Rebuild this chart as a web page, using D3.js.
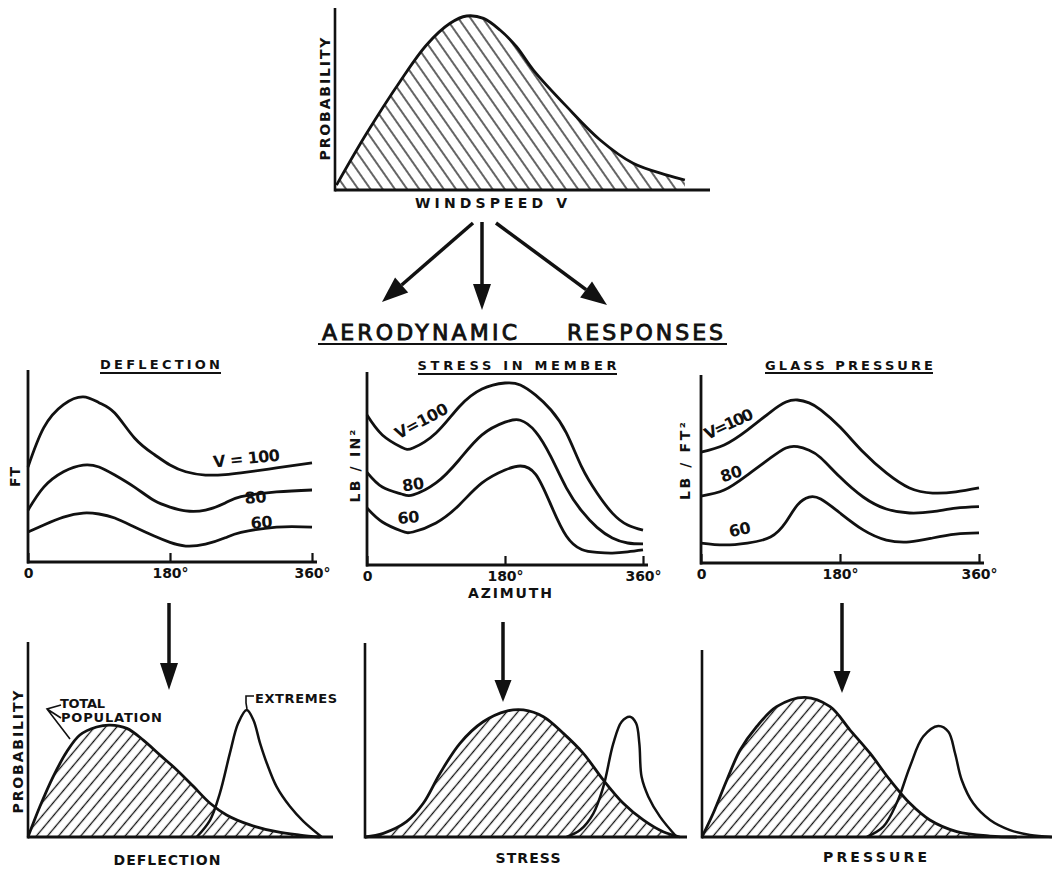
<!DOCTYPE html>
<html>
<head>
<meta charset="utf-8">
<script src="https://cdn.jsdelivr.net/npm/d3@7"></script>
<style>
  body { margin: 0; background: #fff; }
  text { font-family: "DejaVu Sans", "Liberation Sans", sans-serif; fill: #111; }
</style>
</head>
<body>
<div id="chart"></div>
<script>
// ---- data ----
// windspeed distribution (speed %, probability %)
var windspeedPdf = [[0.4,2.7],[8.4,31],[17.3,59.5],[24.4,79.7],[30.7,91.6],[35.1,95.6],[39.6,94.3],[44,87.9],
  [48.4,78.7],[52.9,65.9],[61.8,45.8],[70.7,27.5],[79.5,14.7],[88.5,8.2],[93.3,5.5]];

// aerodynamic responses vs azimuth (deg)
var deflAngles = [0,20,45,70,90,110,135,160,180,200,225,250,270,315,360];
var defl100 = [49.5,70,82,86,83,77.6,64.6,56,50.5,47,45.3,45.5,46.4,49,51.6];
var defl80  = [27,39,47,50.5,49.5,45.3,39,32,28.6,26.6,27,30.7,34,36.5,37.5];
var defl60  = [15.6,19.3,23.4,25.5,25,22.9,18.2,13.5,10.2,8.3,9.3,12.6,15.4,18.2,18.2];

var stressAngles = [0,20,45,60,90,120,150,180,200,220,240,260,280,300,320,340,360];
var stress100 = [77.7,67.4,61,60.6,68.4,81.9,91.2,94.3,93.3,88,80.3,68.4,50.8,37.3,26.9,20.7,18.1];
var stress80  = [48,40.4,36.8,36.3,42.5,54.4,67.4,74,75,69,56,40,28,19.5,14,11.4,10.9];
var stress60  = [29.5,22.3,17.6,17.1,21.8,31,42.5,49.2,51.3,47,31,15,8,6.5,6.2,6.8,7.8];

var glassAngles = [0,30,60,90,110,125,140,155,180,210,240,270,300,330,360];
var glass100 = [59,62.8,70.7,80.3,85.6,86.7,85.2,81.5,72.3,59,47.9,39.9,37.2,37.8,39.9];
var glass80  = [35.6,38.8,46.8,55.9,61.2,61.9,60,56,45.7,35.1,28.7,26.6,27.3,29.2,30];
var glass60  = [10.6,9.6,10.6,13.8,21.8,30.9,35,34,26.6,17.6,12.2,11.2,13.3,15.4,16];

var deflLabels = ["V = 100", "80", "60"];
var speedLabels = ["V=100", "80", "60"];
var angleTicks = [0, 180, 360];

// response distributions (response %, probability %)
var deflTotal = [[0,0],[3.9,15.6],[8.3,31.1],[12.7,43.7],[17,52.3],[22.5,56.4],[26.9,57.4],[32.4,55.7],[37.8,49.7],
  [43.3,42],[48.8,34.4],[54.2,26],[59.7,17.3],[65.1,11.3],[72.8,6.2],[81.5,2.7],[89.2,1],[95.7,0]];
var deflExtreme = [[55.3,0],[59.7,8.7],[62.9,22.4],[66.2,43],[68.9,58.3],[71.7,65.1],[73.9,60],[76.1,48],
  [78.3,37.8],[81.5,25.8],[85.9,15.6],[90.3,8],[96.3,0]];
var stressTotal = [[0,0],[5.7,1.9],[12.9,7.9],[18.1,17.4],[23.3,32.8],[29.5,48.3],[36.7,59.4],[44,64.9],[49.2,65.5],
  [55.4,62],[61.6,53.4],[67.8,43.1],[74,29.4],[80.2,17.4],[86.4,8.8],[92.6,2.7],[97.8,0]];
var stressExtreme = [[62.6,0],[66.8,3.6],[70.9,12.1],[74,25.8],[77.1,48.1],[79.7,59.4],[82.3,62],[84.2,58.6],
  [85.2,48.1],[85.9,31],[88,20.8],[91.6,10.5],[96.8,0]];
var pressTotal = [[0,0],[3.2,12.7],[7.1,30.5],[10.9,46.5],[15.6,59],[21.3,69.7],[29.4,74.7],[36.6,69.7],[42.3,57.2],
  [48,44.8],[53.7,30.5],[59.4,18],[65.1,9.1],[72.8,2.9],[82.3,0.5],[89.9,0]];
var pressExtreme = [[47.1,0],[51.8,5.5],[55.6,18],[59.4,37.6],[63.2,53.7],[67.5,59.4],[70.4,56.3],[72.3,44.8],
  [74.2,30.5],[77.5,18],[82.3,9.1],[88,3.7],[93.7,1.1],[99.9,0]];

// ---- drawing ----
var svg = d3.select("#chart").append("svg")
  .attr("width", 1052)
  .attr("height", 870)
  .style("background", "#fff");

var ink = "#111";
var defs = svg.append("defs");

function hatch(id, angle, gap) {
  var p = defs.append("pattern")
    .attr("id", id)
    .attr("patternUnits", "userSpaceOnUse")
    .attr("width", gap)
    .attr("height", gap)
    .attr("patternTransform", `rotate(${angle})`);
  p.append("line")
    .attr("x1", gap / 2).attr("y1", 0)
    .attr("x2", gap / 2).attr("y2", gap)
    .attr("stroke", ink)
    .attr("stroke-width", 1.3);
}
hatch("hatchBack", -35, 10);
hatch("hatchFwd", 40, 8.5);

function label(x, y, txt, size, len, anchor, rot, weight) {
  var t = svg.append("text")
    .attr("transform", `translate(${x},${y})` + (rot ? ` rotate(${rot})` : ""))
    .attr("text-anchor", anchor || "middle")
    .attr("font-size", size)
    .style("font-weight", weight || "bold")
    .text(txt);
  if (len) t.attr("textLength", len).attr("lengthAdjust", "spacing");
  return t;
}

function line(x1, y1, x2, y2, w) {
  svg.append("line")
    .attr("x1", x1).attr("y1", y1).attr("x2", x2).attr("y2", y2)
    .attr("stroke", ink).attr("stroke-width", w || 2.8);
}

function arrow(x1, y1, x2, y2, headLen, headW) {
  var a = Math.atan2(y2 - y1, x2 - x1);
  var bx = x2 - headLen * Math.cos(a), by = y2 - headLen * Math.sin(a);
  line(x1, y1, bx, by, 3.5);
  var s = Math.sin(a), c = Math.cos(a);
  svg.append("path")
    .attr("d", `M${x2},${y2}L${bx + headW / 2 * s},${by - headW / 2 * c}L${bx - headW / 2 * s},${by + headW / 2 * c}Z`)
    .attr("fill", ink);
}

var smooth = d3.curveCatmullRom.alpha(0.5);

// distribution panel (top and bottom rows)
function distPanel(box, total, extreme, hatchId) {
  var x = d3.scaleLinear().domain([0, 100]).range([box.x0, box.x1]);
  var y = d3.scaleLinear().domain([0, 100]).range([box.y0, box.y1]);

  svg.append("path")
    .datum(total)
    .attr("d", d3.area().x(d => x(d[0])).y0(y(0)).y1(d => y(d[1])).curve(smooth))
    .attr("fill", `url(#${hatchId})`);

  var ln = d3.line().x(d => x(d[0])).y(d => y(d[1])).curve(smooth);
  svg.append("path").datum(total).attr("d", ln)
    .attr("fill", "none").attr("stroke", ink).attr("stroke-width", 2.8);
  if (extreme) {
    svg.append("path").datum(extreme).attr("d", ln)
      .attr("fill", "none").attr("stroke", ink).attr("stroke-width", 2.5);
  }

  line(x(0), y(0), x(100), y(0), 3);
  line(x(0), y(0) + 1.5, x(0), y(100), 2.6);
}

// response panel (middle row)
function respPanel(box, angles, series, names, labelPos) {
  var x = d3.scaleLinear().domain([0, 360]).range([box.x0, box.x1]);
  var y = d3.scaleLinear().domain([0, 100]).range([box.y0, box.y1]);

  var g = svg.append("g");
  var xAxis = d3.axisBottom(x)
    .tickValues(angleTicks)
    .tickSize(-9)
    .tickSizeOuter(0)
    .tickPadding(6)
    .tickFormat(d => d === 0 ? "0" : d + "°");
  g.append("g")
    .attr("transform", `translate(0,${y(0)})`)
    .call(xAxis)
    .call(a => a.select(".domain").remove())
    .call(a => a.selectAll("line").attr("stroke", ink).attr("stroke-width", 2.2))
    .call(a => a.selectAll("text").attr("font-size", 14).attr("font-family", null)
      .attr("fill", ink).style("font-weight", "bold"));

  line(x(0) - 1, y(0), x(360) + 5, y(0), 3);
  line(x(0), y(0) + 1.5, x(0), y(100), 2.8);

  var ln = d3.line().x((d, i) => x(angles[i])).y(d => y(d)).curve(d3.curveNatural);
  series.forEach(function(s) {
    g.append("path").datum(s).attr("d", ln)
      .attr("fill", "none").attr("stroke", ink).attr("stroke-width", 2.8);
  });

  labelPos.forEach(function(l, i) {
    label(l[0], l[1], names[i], 16, l[3], "middle", l[2]);
  });
}

// ---- top: windspeed ----
distPanel({x0: 335, x1: 710, y0: 190, y1: 8}, windspeedPdf, null, "hatchBack");
label(330, 99, "PROBABILITY", 14, 123, "middle", -90);
label(491, 208, "WINDSPEED  V", 14, 152);

arrow(473, 223, 382, 302, 26, 20);
arrow(482, 222, 482, 310, 26, 18);
arrow(496, 223, 607, 305, 26, 20);

label(322, 340, "AERODYNAMIC", 22, 195, "start", 0, "normal").style("stroke", ink).style("stroke-width", 0.9);
label(567, 340, "RESPONSES", 22, 156, "start", 0, "normal").style("stroke", ink).style("stroke-width", 0.9);
line(318, 344, 727, 344, 2);

// ---- middle: responses ----
respPanel({x0: 28, x1: 312, y0: 562, y1: 370}, deflAngles, [defl100, defl80, defl60], deflLabels,
  [[247, 464, -6, 67], [256, 503, -4, 22], [262, 528, -4, 22]]);
label(160, 369, "DEFLECTION", 13, 120);
line(100, 373, 221, 373, 1.8);
label(20, 477, "FT", 14, 20, "middle", -90);

respPanel({x0: 367, x1: 643, y0: 565, y1: 372}, stressAngles, [stress100, stress80, stress60], speedLabels,
  [[424, 426, -28, 58], [414, 490, -8, 22], [409, 523, -5, 22]]);
label(517, 370, "STRESS  IN  MEMBER", 13, 199);
line(418, 374, 617, 374, 1.8);
label(360, 466, "LB / IN²", 14, 73, "middle", -90);
label(510, 598, "AZIMUTH", 14, 84);

respPanel({x0: 701, x1: 979, y0: 563, y1: 375}, glassAngles, [glass100, glass80, glass60], speedLabels,
  [[731, 429, -25, 52], [733, 479, -18, 22], [741, 535, -12, 22]]);
label(849, 370, "GLASS  PRESSURE", 13, 168);
line(765, 373, 933, 373, 1.8);
label(690, 461, "LB / FT²", 14, 78, "middle", -90);

// ---- bottom: response distributions ----
arrow(169, 603, 169, 690, 27, 18);
arrow(503, 622, 503, 702, 22, 17);
arrow(842, 603, 842, 693, 22, 17);

distPanel({x0: 28, x1: 333, y0: 837, y1: 642}, deflTotal, deflExtreme, "hatchFwd");
label(23, 752, "PROBABILITY", 14, 123, "middle", -90);
label(167, 865, "DEFLECTION", 14, 107);
label(60, 708, "TOTAL", 13, 45, "start");
label(61, 722, "POPULATION", 13, 101, "start");
label(255, 703, "EXTREMES", 13, 82, "start");
svg.append("path").attr("d", "M61,705L47,709L70,739M61,718L47,709")
  .attr("fill", "none").attr("stroke", ink).attr("stroke-width", 1.6);
svg.append("path").attr("d", "M254,696L246,696L246,703L247,709")
  .attr("fill", "none").attr("stroke", ink).attr("stroke-width", 1.6);

distPanel({x0: 365, x1: 687, y0: 837, y1: 643}, stressTotal, stressExtreme, "hatchFwd");
label(528, 863, "STRESS", 14, 65);

distPanel({x0: 702, x1: 1052, y0: 837, y1: 650}, pressTotal, pressExtreme, "hatchFwd");
label(875, 862, "PRESSURE", 14, 104);
</script>
</body>
</html>
